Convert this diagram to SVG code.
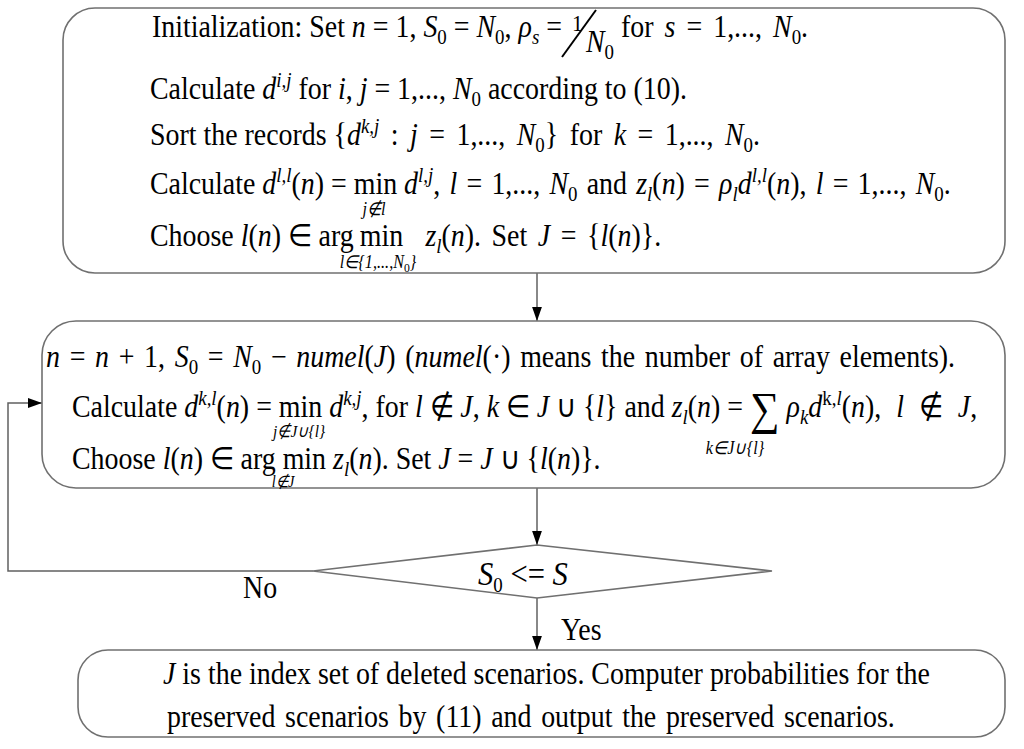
<svg xmlns="http://www.w3.org/2000/svg" width="1024" height="749" viewBox="0 0 1024 749">
<style>
.t{font-family:"Liberation Serif","Times New Roman",serif;font-size:31px;fill:#000}
.i{font-style:italic}
.s{font-size:21px}
.u{font-family:"Liberation Serif","Times New Roman",serif;font-size:18px;font-style:italic;fill:#000}
.box{fill:#fff;stroke:#707070;stroke-width:1.6}
.con{fill:none;stroke:#606060;stroke-width:1.5}
</style>
<defs>
<marker id="ah" markerUnits="userSpaceOnUse" markerWidth="14" markerHeight="20" viewBox="0 0 20 14" refX="20" refY="7" orient="auto">
<path d="M0,0 L20,7 L0,14 Z" fill="#000"/>
</marker>
</defs>
<rect width="1024" height="749" fill="#fff"/>
<g id="connectors">
<path class="con" d="M537 273 V321" marker-end="url(#ah)"/>
<path class="con" d="M537 488 V545" marker-end="url(#ah)"/>
<path class="con" d="M537 598 V650" marker-end="url(#ah)"/>
<path class="con" d="M313 571 H8 V403 H42" marker-end="url(#ah)"/>
<text class="t" transform="translate(243 598) scale(.9 1)">No</text>
<text class="t" transform="translate(561 640) scale(.9 1)">Yes</text>
</g>
<g id="init">
<rect class="box" x="63" y="8" width="942" height="265" rx="32"/>
<text class="t" transform="translate(152 37) scale(.9 1)">Initialization: Set <tspan class="i">n</tspan> = 1, <tspan class="i">S</tspan><tspan class="s" dy="7">0</tspan><tspan dy="-7"> = </tspan><tspan class="i">N</tspan><tspan class="s" dy="7">0</tspan><tspan dy="-7">, </tspan><tspan class="i">ρ</tspan><tspan class="s i" dy="7">s</tspan><tspan dy="-7"> =</tspan></text>
<text class="t" transform="translate(572 31) scale(.9 1)" style="font-size:24px">1</text>
<line x1="562" y1="57" x2="596" y2="10" stroke="#000" stroke-width="2"/>
<text class="t" transform="translate(586 52) scale(.9 1)"><tspan class="i">N</tspan><tspan class="s" dy="7">0</tspan></text>
<text class="t" transform="translate(621 37) scale(.9 1)" style="word-spacing:4.5px">for <tspan class="i">s</tspan> = 1,..., <tspan class="i">N</tspan><tspan class="s" dy="7">0</tspan><tspan dy="-7">.</tspan></text>
<text class="t" transform="translate(150 99) scale(.9 1)">Calculate <tspan class="i">d</tspan><tspan class="s i" dy="-12">i,j</tspan><tspan dy="12">  for </tspan><tspan class="i">i</tspan>, <tspan class="i">j</tspan> = 1,..., <tspan class="i">N</tspan><tspan class="s" dy="7">0</tspan><tspan dy="-7"> according to (10).</tspan></text>
<text class="t" transform="translate(150 145) scale(.9 1)">Sort the records {<tspan class="i">d</tspan><tspan class="s i" dy="-12">k,j</tspan><tspan dy="12" style="word-spacing:5px"> : <tspan class="i">j</tspan> = 1,..., <tspan class="i">N</tspan><tspan class="s" dy="7">0</tspan><tspan dy="-7">} for </tspan><tspan class="i">k</tspan> = 1,..., <tspan class="i">N</tspan><tspan class="s" dy="7">0</tspan><tspan dy="-7">.</tspan></tspan></text>
<text class="t" transform="translate(150 194) scale(.9 1)">Calculate <tspan class="i">d</tspan><tspan class="s i" dy="-12">l,l</tspan><tspan dy="12">(</tspan><tspan class="i">n</tspan>) = min <tspan class="i">d</tspan><tspan class="s i" dy="-12">l,j</tspan><tspan dy="12" style="word-spacing:2.5px">, <tspan class="i">l</tspan> = 1,..., <tspan class="i">N</tspan><tspan class="s" dy="7">0</tspan><tspan dy="-7"> and </tspan><tspan class="i">z</tspan><tspan class="s i" dy="7">l</tspan><tspan dy="-7">(</tspan><tspan class="i">n</tspan>) = <tspan class="i">ρ</tspan><tspan class="s i" dy="7">l</tspan><tspan class="i" dy="-7">d</tspan><tspan class="s i" dy="-12">l,l</tspan><tspan dy="12">(</tspan><tspan class="i">n</tspan>),  <tspan class="i">l</tspan> = 1,..., <tspan class="i">N</tspan><tspan class="s" dy="7">0</tspan><tspan dy="-7">.</tspan></tspan></text>
<text class="u" transform="translate(374 215) scale(.9 1)" text-anchor="middle">j∉l</text>
<text class="t" transform="translate(150 246) scale(.9 1)">Choose <tspan class="i">l</tspan>(<tspan class="i">n</tspan>) ∈ arg<tspan x="233">min</tspan><tspan class="i" x="306">z</tspan><tspan class="s i" dy="7">l</tspan><tspan dy="-7">(</tspan><tspan class="i">n</tspan><tspan style="word-spacing:4px">). Set <tspan class="i">J</tspan> = {<tspan class="i">l</tspan>(<tspan class="i">n</tspan>)}.</tspan></text>
<text class="u" transform="translate(378 268) scale(.9 1)" text-anchor="middle">l∈{1,...,<tspan>N</tspan><tspan style="font-size:13px;font-style:normal" dy="4">0</tspan><tspan dy="-4">}</tspan></text>
</g>
<g id="update">
<rect class="box" x="42" y="321" width="963" height="167" rx="34"/>
<text class="t" transform="translate(46 367) scale(.9 1)" style="word-spacing:3px"><tspan class="i">n</tspan> = <tspan class="i">n</tspan> + 1, <tspan class="i">S</tspan><tspan class="s" dy="7">0</tspan><tspan dy="-7"> = </tspan><tspan class="i">N</tspan><tspan class="s" dy="7">0</tspan><tspan dy="-7"> − </tspan><tspan class="i">numel</tspan>(<tspan class="i">J</tspan>)  (<tspan class="i">numel</tspan>(·) means the number of array elements).</text>
<text class="t" transform="translate(72 417) scale(.9 1)">Calculate <tspan class="i">d</tspan><tspan class="s i" dy="-12">k,l</tspan><tspan dy="12">(</tspan><tspan class="i">n</tspan>) =  min  <tspan class="i">d</tspan><tspan class="s i" dy="-12">k,j</tspan><tspan dy="12">,  for </tspan><tspan class="i">l</tspan> ∉ <tspan class="i">J</tspan>, <tspan class="i">k</tspan> ∈ <tspan class="i">J</tspan> ∪ {<tspan class="i">l</tspan>} and <tspan class="i">z</tspan><tspan class="s i" dy="7">l</tspan><tspan dy="-7">(</tspan><tspan class="i">n</tspan>) = <tspan style="font-size:46px" dy="7">∑</tspan><tspan class="i" dy="-7">  ρ</tspan><tspan class="s i" dy="7">k</tspan><tspan class="i" dy="-7">d</tspan><tspan class="s" dy="-12">k,<tspan class="i">l</tspan></tspan><tspan dy="12">(</tspan><tspan class="i">n</tspan>),<tspan style="word-spacing:9px"> <tspan class="i">l</tspan> ∉ <tspan class="i">J</tspan>,</tspan></text>
<text class="u" transform="translate(299 437) scale(.9 1)" text-anchor="middle" style="font-size:17px">j∉J∪{l}</text>
<text class="u" transform="translate(735 454) scale(.9 1)" text-anchor="middle">k∈J∪{l}</text>
<text class="t" transform="translate(72 469) scale(.9 1)">Choose <tspan class="i">l</tspan>(<tspan class="i">n</tspan>) ∈ arg min <tspan class="i">z</tspan><tspan class="s i" dy="7">l</tspan><tspan dy="-7">(</tspan><tspan class="i">n</tspan>). Set <tspan class="i">J</tspan> = <tspan class="i">J</tspan> ∪ {<tspan class="i">l</tspan>(<tspan class="i">n</tspan>)}.</text>
<text class="u" transform="translate(283 487) scale(.9 1)" text-anchor="middle" style="font-size:16px">l∉J</text>
</g>
<g id="decision">
<polygon class="box" points="537,545 772,571 537,598 313,571"/>
<text class="t" transform="translate(478 585) scale(.9 1)" style="font-size:34px"><tspan class="i">S</tspan><tspan class="s" dy="7">0</tspan><tspan dy="-7"> &lt;= </tspan><tspan class="i">S</tspan></text>
</g>
<g id="output">
<rect class="box" x="78" y="650" width="927" height="87" rx="30"/>
<text class="t" transform="translate(163 684) scale(.9 1)"><tspan class="i">J</tspan>  is the index set of deleted scenarios. Computer probabilities for the</text>
<text class="t" transform="translate(167 727) scale(.9 1)" style="word-spacing:3px">preserved scenarios by (11) and output the preserved scenarios.</text>
</g>
</svg>
